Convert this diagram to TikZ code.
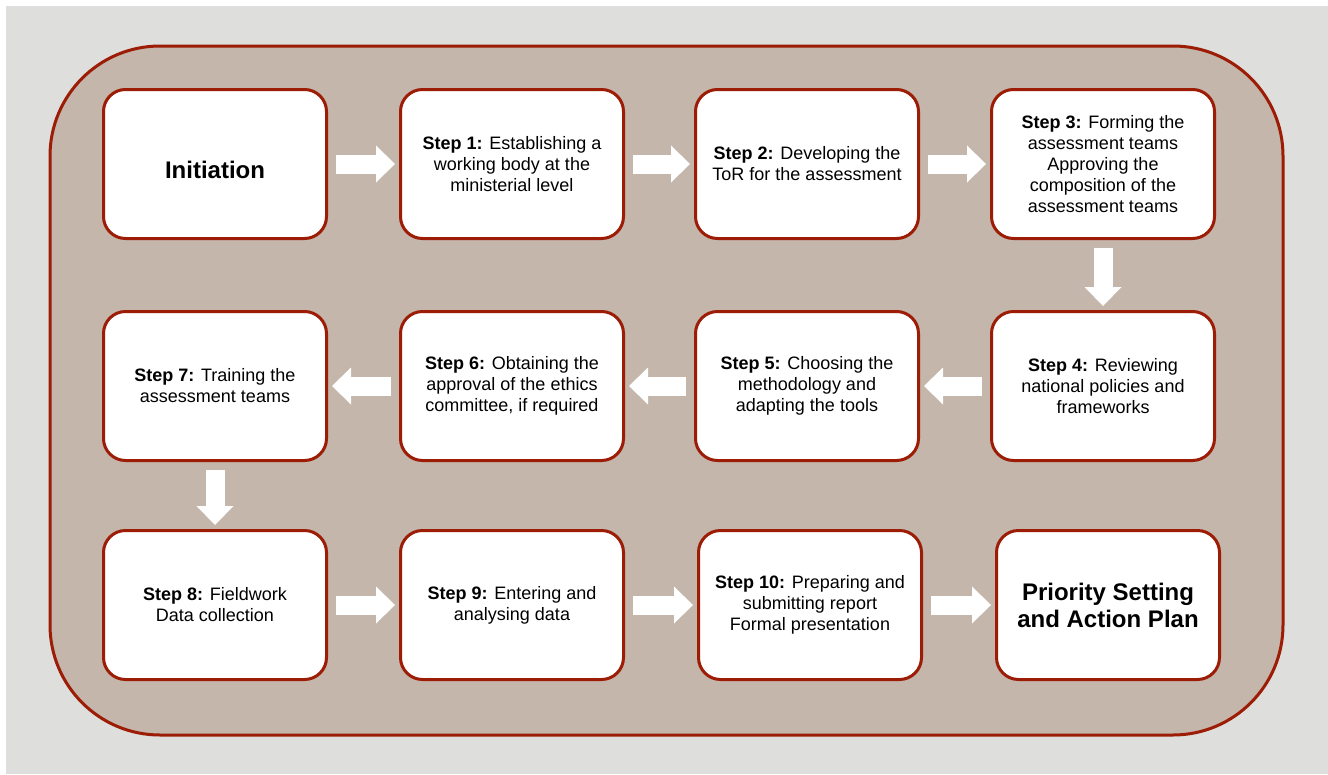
\documentclass[tikz,border=0pt]{standalone}
\usepackage{fontspec}
\setmainfont{Liberation Sans}
\usetikzlibrary{arrows.meta}
\definecolor{frmred}{HTML}{9C1C06}
\definecolor{frmtan}{HTML}{C4B6AA}
\definecolor{frmgray}{HTML}{DEDEDC}
\tikzset{
  bx/.style={draw=frmred, line width=3pt, fill=white, rounded corners=22pt, align=center, minimum width=223pt, minimum height=149pt, inner sep=4pt, font=\fontsize{18pt}{21pt}\selectfont},
  ttl/.style={bx, font=\fontsize{24pt}{27pt}\selectfont\bfseries},
  barr/.style={-{Triangle[length=19pt, width=37pt, line width=0pt]}, line width=19pt, color=white, shorten <=8pt, shorten >=4pt},
}
\begin{document}
\begin{tikzpicture}[x=1pt, y=-1pt]
    \useasboundingbox (0,0) rectangle (1328,774);
    \fill[frmgray] (6,6) rectangle (1328,774);
    \draw[frmred, fill=frmtan, line width=3pt, rounded corners=110pt] (50,46) rectangle (1283,735);
    % row 1
    \node[ttl] (init) at (215,164) {\raisebox{-6pt}[\height][\depth]{Initiation}};
    \node[bx] (s1) at (512,164) {\textbf{Step 1:} Establishing a\\working body at the\\ministerial level};
    \node[bx] (s2) at (807,164) {\textbf{Step 2:} Developing the\\ToR for the assessment};
    \node[bx] (s3) at (1103,164) {\textbf{Step 3:} Forming the\\assessment teams\\Approving the\\composition of the\\assessment teams};
    % row 2
    \node[bx] (s4) at (1103,386) {\textbf{Step 4:} Reviewing\\national policies and\\frameworks};
    \node[bx] (s5) at (807,386) {\textbf{Step 5:} Choosing the\\methodology and\\adapting the tools};
    \node[bx] (s6) at (512,386) {\textbf{Step 6:} Obtaining the\\approval of the ethics\\committee, if required};
    \node[bx] (s7) at (215,386) {\textbf{Step 7:} Training the\\assessment teams};
    % row 3
    \node[bx] (s8) at (215,605) {\textbf{Step 8:} Fieldwork\\Data collection};
    \node[bx] (s9) at (512,605) {\textbf{Step 9:} Entering and\\analysing data};
    \node[bx] (s10) at (810,605) {\textbf{Step 10:} Preparing and\\submitting report\\Formal presentation};
    \node[ttl] (plan) at (1108,605) {Priority Setting\\and Action Plan};
    \foreach \a/\b in {init/s1,s1/s2,s2/s3,s3/s4,s4/s5,s5/s6,s6/s7,s7/s8,s8/s9,s9/s10,s10/plan} \draw[barr] (\a) -- (\b);
  \end{tikzpicture}
\end{document}
